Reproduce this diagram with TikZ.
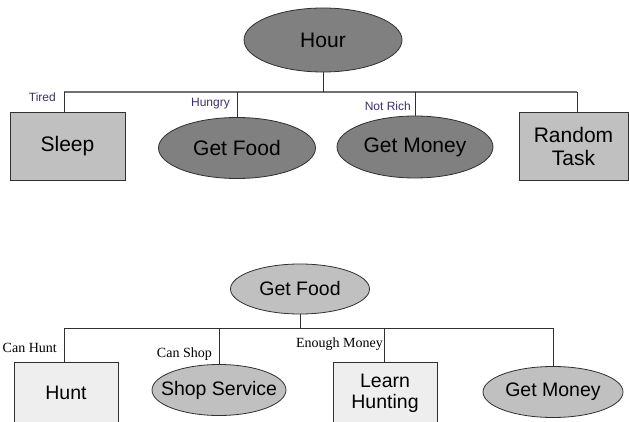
\documentclass[tikz,border=0pt]{standalone}
\usepackage{fontspec}
\setmainfont{Liberation Sans}
\newfontfamily\seriflab{Liberation Serif}
\usetikzlibrary{shapes.geometric}
\definecolor{darkfill}{HTML}{808080}
\definecolor{midfill}{HTML}{C0C0C0}
\definecolor{lightfill}{HTML}{EEEEEE}
\definecolor{labcol}{HTML}{3F2F66}
\definecolor{edgecol}{HTML}{303030}
\definecolor{buscol}{HTML}{707070}
\begin{document}
\begin{tikzpicture}[x=1pt,y=-1pt,
  oval/.style={ellipse, draw=edgecol, line width=0.8pt, inner sep=0pt},
  box/.style={rectangle, draw=edgecol, line width=0.8pt, inner sep=0pt, align=center},
  bigtext/.style={font=\fontsize{21}{23}\selectfont},
  smalltext/.style={font=\fontsize{19.5}{21}\selectfont},
  toplab/.style={font=\fontsize{12}{14}\selectfont, text=labcol, inner sep=0pt, anchor=east},
  botlab/.style={font=\seriflab\fontsize{14}{16}\selectfont, inner sep=0pt, anchor=east},
  bus/.style={draw=buscol, line width=1.6pt},
  conn/.style={draw=edgecol, line width=0.8pt}]
\clip (0,0) rectangle (629,422);
\fill[white] (0,0) rectangle (629,422);

% ---------- top tree ----------
\node[oval, bigtext, fill=darkfill, minimum width=158pt, minimum height=64pt] (hour) at (323,40) {\makebox[0pt]{Hour}};
\node[box, bigtext, fill=midfill, minimum width=115pt, minimum height=68pt] (sleep) at (67.5,146) {Sleep};
\node[oval, bigtext, fill=darkfill, minimum width=157pt, minimum height=61pt] (tfood) at (237,148) {\makebox[0pt]{Get Food}};
\node[oval, bigtext, fill=darkfill, minimum width=156pt, minimum height=62pt] (tmoney) at (415,147) {\makebox[0pt]{Get Money}};
\node[box, bigtext, fill=midfill, minimum width=109pt, minimum height=68pt] (rtask) at (573.5,146) {Random\\[0pt]Task};

\coordinate (t1) at (64,92);
\coordinate (t4) at (577,92);
\draw[bus] (t1) -- (t4);
\draw[conn] (hour.south) -- (hour.south |- t1);
\draw[conn] (t1) -- (t1 |- sleep.north);
\draw[conn] (tfood.north |- t1) -- (tfood.north);
\draw[conn] (tmoney.north |- t1) -- (tmoney.north);
\draw[conn] (t4) -- (t4 |- rtask.north);

\node[toplab] (ltired) at (56,97) {Tired};
\node[toplab] (lhungry) at (230,104) {Hungry};
\node[toplab] (lnotrich) at (411,106) {Not Rich};

% ---------- bottom tree ----------
\node[oval, smalltext, fill=midfill, minimum width=139pt, minimum height=50pt] (bfood) at (300,289) {\makebox[0pt]{Get Food}};
\node[box, smalltext, fill=lightfill, minimum width=104pt, minimum height=62pt] (hunt) at (66,393) {Hunt};
\node[oval, smalltext, fill=midfill, minimum width=134pt, minimum height=51pt] (shop) at (219,390) {\makebox[0pt]{Shop Service}};
\node[box, smalltext, fill=lightfill, minimum width=104pt, minimum height=62pt] (learn) at (385,393) {Learn\\[0pt]Hunting};
\node[oval, smalltext, fill=midfill, minimum width=140pt, minimum height=51pt] (bmoney) at (553,392) {\makebox[0pt]{Get Money}};

\coordinate (b1) at (64,328);
\coordinate (b3) at (384,328);
\coordinate (b4) at (553,328);
\draw[conn] (b1) -- (b4);
\draw[conn] (bfood.south) -- (bfood.south |- b1);
\draw[conn] (b1) -- (b1 |- hunt.north);
\draw[conn] (shop.north |- b1) -- (shop.north);
\draw[conn] (b3) -- (b3 |- learn.north);
\draw[conn] (bmoney.north |- b1) -- (bmoney.north);

\node[botlab] (lcanhunt) at (57,348) {Can Hunt};
\node[botlab] (lcanshop) at (212,354) {Can Shop};
\node[botlab] (lenough) at (383,344) {Enough Money};
\end{tikzpicture}
\end{document}
